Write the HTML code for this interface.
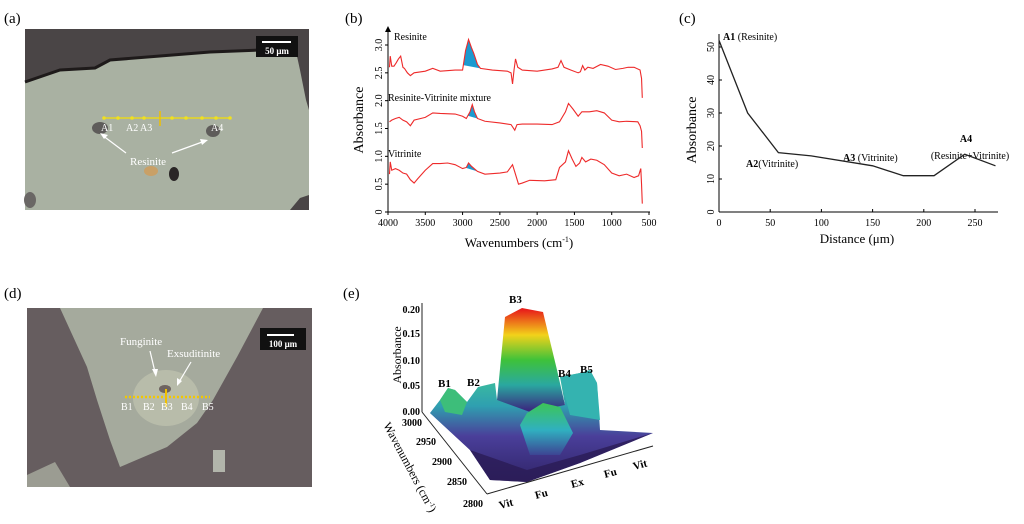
<!DOCTYPE html>
<html><head><meta charset="utf-8"><style>
html,body{margin:0;padding:0;background:#fff;}
svg{display:block;font-family:"Liberation Serif",serif;}
</style></head><body>
<svg id="fig" width="1024" height="524" viewBox="0 0 1024 524" xmlns="http://www.w3.org/2000/svg">
<defs>
<linearGradient id="peakG" gradientUnits="userSpaceOnUse" x1="0" y1="310" x2="0" y2="410">
<stop offset="0" stop-color="#e8201a"/><stop offset="0.25" stop-color="#f2d21a"/><stop offset="0.5" stop-color="#3ec23a"/><stop offset="0.75" stop-color="#2aa8a0"/><stop offset="1" stop-color="#3a2a80"/></linearGradient>
<linearGradient id="baseG" gradientUnits="userSpaceOnUse" x1="0" y1="370" x2="0" y2="490">
<stop offset="0" stop-color="#40c898"/><stop offset="0.3" stop-color="#2f9fb0"/><stop offset="0.55" stop-color="#4a3f9a"/><stop offset="1" stop-color="#2c1f60"/></linearGradient>
<linearGradient id="humpG" gradientUnits="userSpaceOnUse" x1="0" y1="400" x2="0" y2="460">
<stop offset="0" stop-color="#3ec84a"/><stop offset="0.5" stop-color="#30b0c0"/><stop offset="1" stop-color="#3f2f8a"/></linearGradient>
</defs>

<!-- Panel a -->
<g>
<text x="4" y="23" font-size="15">(a)</text>
<rect x="25" y="29" width="284" height="181" fill="#4a4546"/>
<polygon points="25,82 60,70 95,68 110,60 160,56 210,52 260,50 295,47 300,70 306,100 309,110 309,195 300,198 290,210 25,210" fill="#a9b1a2"/>
<polyline points="25,82 60,70 95,68 110,60 160,56 210,52 260,50 295,47" fill="none" stroke="#1e1a1a" stroke-width="3"/>
<ellipse cx="100" cy="128" rx="8" ry="6" fill="#5e5c5a"/>
<ellipse cx="213" cy="131" rx="7" ry="6" fill="#5e5c5a"/>
<ellipse cx="151" cy="171" rx="7" ry="5" fill="#c9a067"/>
<ellipse cx="174" cy="174" rx="5" ry="7" fill="#2a2626"/>
<ellipse cx="30" cy="200" rx="6" ry="8" fill="#6a6765"/>
<rect x="256" y="36" width="42" height="21" fill="#111"/>
<line x1="262" y1="42" x2="291" y2="42" stroke="#fff" stroke-width="2"/>
<text x="277" y="54" font-size="9" font-weight="bold" fill="#fff" text-anchor="middle">50 μm</text>
<line x1="103" y1="118" x2="231" y2="118" stroke="#e8d820" stroke-width="1.5"/>
<line x1="160" y1="111" x2="160" y2="126" stroke="#f0c000" stroke-width="1.5"/>
<g fill="#f0e020"><circle cx="104" cy="118" r="1.8"/><circle cx="118" cy="118" r="1.8"/><circle cx="132" cy="118" r="1.8"/><circle cx="144" cy="118" r="1.8"/><circle cx="172" cy="118" r="1.8"/><circle cx="186" cy="118" r="1.8"/><circle cx="202" cy="118" r="1.8"/><circle cx="216" cy="118" r="1.8"/><circle cx="230" cy="118" r="1.8"/></g>
<g font-size="10" fill="#fff"><text x="101" y="131">A1</text><text x="126" y="131">A2</text><text x="140" y="131">A3</text><text x="211" y="131">A4</text>
<text x="130" y="165" font-size="11">Resinite</text></g>
<line x1="126" y1="153" x2="102" y2="135" stroke="#fff" stroke-width="1.2"/><polygon points="100,133 108,135 104,139" fill="#fff"/>
<line x1="172" y1="153" x2="205" y2="141" stroke="#fff" stroke-width="1.2"/><polygon points="208,140 200,139 202,145" fill="#fff"/>
</g>

<!-- Panel d -->
<g>
<text x="4" y="298" font-size="15">(d)</text>
<rect x="27" y="308" width="285" height="179" fill="#665d5f"/>
<polygon points="60,308 263,308 237,357 213,400 197,423 167,447 120,467 110,440 97,400 87,367" fill="#a5aa9d"/>
<ellipse cx="166" cy="398" rx="33" ry="28" fill="#b8bcaa"/>
<ellipse cx="165" cy="389" rx="6" ry="4" fill="#6e6460"/>
<polygon points="27,487 27,475 55,462 70,487" fill="#9b9c92"/>
<rect x="213" y="450" width="12" height="22" fill="#b2b5ab"/>
<rect x="260" y="328" width="46" height="22" fill="#111"/>
<line x1="267" y1="335" x2="294" y2="335" stroke="#fff" stroke-width="2"/>
<text x="283" y="347" font-size="9" font-weight="bold" fill="#fff" text-anchor="middle">100 μm</text>
<line x1="125" y1="397" x2="210" y2="397" stroke="#f2c800" stroke-width="2.5" stroke-dasharray="2,2"/>
<line x1="166" y1="389" x2="166" y2="407" stroke="#f0c000" stroke-width="2"/>
<g font-size="10" fill="#fff"><text x="121" y="410">B1</text><text x="143" y="410">B2</text><text x="161" y="410">B3</text><text x="181" y="410">B4</text><text x="202" y="410">B5</text>
<text x="120" y="345" font-size="11">Funginite</text><text x="167" y="357" font-size="11">Exsuditinite</text></g>
<line x1="150" y1="351" x2="155" y2="372" stroke="#fff" stroke-width="1.2"/><polygon points="156,377 152,369 158,369" fill="#fff"/>
<line x1="191" y1="362" x2="179" y2="382" stroke="#fff" stroke-width="1.2"/><polygon points="177,386 177,378 182,381" fill="#fff"/>
</g>

<!-- Panel b -->
<g id="pb">
<text x="345" y="23" font-size="15">(b)</text>
<line x1="388" y1="30" x2="388" y2="212" stroke="#000" stroke-width="1"/>
<polygon points="385,32 391,32 388,26" fill="#000"/>
<line x1="388" y1="212" x2="650" y2="212" stroke="#000" stroke-width="1"/>
<text transform="translate(363,120) rotate(-90)" font-size="14" text-anchor="middle">Absorbance</text>
<text x="519" y="247" font-size="13" text-anchor="middle">Wavenumbers (cm<tspan font-size="8" dy="-5">-1</tspan><tspan dy="5">)</tspan></text>
<text x="394" y="40" font-size="10">Resinite</text>
<text x="388" y="101" font-size="10">Resinite-Vitrinite mixture</text>
<text x="388" y="157" font-size="10">Vitrinite</text>
</g>

<!-- Panel c -->
<g id="pc">
<text x="679" y="23" font-size="15">(c)</text>
<line x1="719" y1="34" x2="719" y2="212" stroke="#000"/>
<line x1="719" y1="212" x2="998" y2="212" stroke="#000"/>
<text transform="translate(696,130) rotate(-90)" font-size="14" text-anchor="middle">Absorbance</text>
<text x="857" y="243" font-size="13" text-anchor="middle">Distance (μm)</text>
<g font-size="10">
<text x="723" y="40"><tspan font-weight="bold">A1</tspan> (Resinite)</text>
<text x="746" y="167"><tspan font-weight="bold">A2</tspan>(Vitrinite)</text>
<text x="843" y="161"><tspan font-weight="bold">A3</tspan> (Vitrinite)</text>
<text x="966" y="142" font-weight="bold" text-anchor="middle">A4</text>
<text x="970" y="159" text-anchor="middle">(Resinite+Vitrinite)</text>
</g>
</g>

<!-- Panel e -->
<g>
<text x="343" y="298" font-size="15">(e)</text>
<polygon points="430,413 440,400 448,388 455,390 467,402 478,387 495,383 497,400 565,405 560,377 580,373 590,370 597,383 600,430 653,433 580,463 527,482 490,480 470,450" fill="url(#baseG)"/>
<polygon points="430,413 470,410 520,430 530,470 490,480 470,450" fill="url(#baseG)" opacity="0.9"/>
<polygon points="440,400 448,388 455,390 467,402 462,415 445,412" fill="#3dbe7a"/>
<polygon points="560,377 580,373 590,370 597,383 600,420 570,415" fill="#34b3b0"/>
<polygon points="497,400 505,317 522,308 543,312 557,370 565,405 530,412" fill="url(#peakG)"/>
<polygon points="520,425 527,413 543,403 560,407 573,433 560,455 530,455" fill="url(#humpG)"/>
<polygon points="470,450 527,470 580,455 653,433 580,463 527,482 490,480" fill="#2a1c55" opacity="0.8"/>
<line x1="422" y1="303" x2="422" y2="412" stroke="#222"/>
<line x1="422" y1="412" x2="487" y2="494" stroke="#222"/>
<line x1="487" y1="494" x2="653" y2="446" stroke="#222"/>
<g font-size="10" font-weight="bold" text-anchor="end">
<text x="420" y="313">0.20</text><text x="420" y="337">0.15</text><text x="420" y="364">0.10</text><text x="420" y="389">0.05</text><text x="420" y="415">0.00</text></g>
<g font-size="10" font-weight="bold" text-anchor="end">
<text x="422" y="426">3000</text><text x="436" y="445">2950</text><text x="452" y="465">2900</text><text x="467" y="485">2850</text><text x="483" y="507">2800</text></g>
<g font-size="11" font-weight="bold">
<text transform="translate(500,509) rotate(-15)">Vit</text><text transform="translate(536,499) rotate(-15)">Fu</text><text transform="translate(572,488) rotate(-15)">Ex</text><text transform="translate(605,478) rotate(-15)">Fu</text><text transform="translate(634,470) rotate(-15)">Vit</text></g>
<text transform="translate(401,355) rotate(-90)" font-size="12" text-anchor="middle">Absorbance</text>
<text transform="translate(383,425) rotate(62)" font-size="12">Wavenumbers (cm<tspan font-size="7" dy="-4">-1</tspan><tspan dy="4">)</tspan></text>
<g font-size="11" font-weight="bold">
<text x="438" y="387">B1</text><text x="467" y="386">B2</text><text x="509" y="303">B3</text><text x="558" y="377">B4</text><text x="580" y="373">B5</text></g>
</g>
</svg>
<script>
// ---- Panel b data ----
const bTicksX = [4000,3500,3000,2500,2000,1500,1000,500];
const bTicksY = [0,0.5,1.0,1.5,2.0,2.5,3.0];
const resWn = [3980,3970,3950,3920,3890,3860,3830,3800,3780,3740,3700,3650,3500,3400,3300,3100,3000,2960,2920,2880,2850,2800,2760,2600,2400,2350,2330,2310,2290,2260,2200,2000,1800,1720,1680,1640,1550,1450,1420,1390,1360,1320,1250,1150,1050,950,850,780,700,620,600,590];
const resAb = [2.6,2.8,2.62,2.62,2.68,2.75,2.8,2.6,2.58,2.5,2.45,2.5,2.53,2.58,2.53,2.55,2.55,2.9,3.1,2.95,2.85,2.65,2.58,2.55,2.53,2.5,2.3,2.55,2.75,2.6,2.55,2.53,2.57,2.6,2.72,2.6,2.55,2.5,2.52,2.63,2.55,2.6,2.58,2.65,2.62,2.56,2.58,2.6,2.6,2.55,2.4,2.05];
const mixWn = [3980,3950,3900,3850,3800,3750,3700,3650,3500,3400,3300,3100,3000,2950,2900,2870,2840,2800,2700,2500,2350,2300,2270,2200,2000,1800,1700,1620,1580,1520,1450,1400,1300,1200,1100,1000,900,800,650,620,600,590];
const mixAb = [1.62,1.65,1.68,1.7,1.65,1.62,1.55,1.65,1.7,1.78,1.77,1.76,1.72,1.68,1.8,1.93,1.8,1.68,1.63,1.6,1.57,1.47,1.57,1.58,1.58,1.57,1.62,1.8,1.95,1.85,1.72,1.8,1.8,1.82,1.78,1.65,1.62,1.63,1.62,1.55,1.45,1.15];
const vitWn = [3980,3970,3950,3900,3850,3800,3750,3700,3650,3600,3500,3400,3300,3200,3100,3000,2950,2920,2880,2800,2700,2500,2400,2330,2300,2250,2200,2100,1900,1750,1700,1620,1580,1530,1480,1430,1400,1350,1280,1200,1100,1000,900,800,700,640,610,600,590];
const vitAb = [0.68,0.9,0.75,0.78,0.75,0.7,0.68,0.58,0.52,0.6,0.75,0.87,0.87,0.88,0.85,0.78,0.8,0.88,0.82,0.73,0.68,0.7,0.72,0.85,0.72,0.5,0.52,0.57,0.56,0.58,0.8,0.9,1.1,0.95,0.82,0.88,0.98,0.9,0.95,0.93,0.85,0.7,0.65,0.68,0.62,0.65,0.78,0.5,0.15];
const bandStart = [2990,2930,2960];
const bandEnd = [2760,2790,2790];
// ---- Panel c data ----
const cDist = [0,28,58,90,150,180,210,240,270];
const cAbs = [52,30,18,17,14,11,11,17.5,14];
const cTicksX = [0,50,100,150,200,250];
const cTicksY = [0,10,20,30,40,50];

const NS = "http://www.w3.org/2000/svg";
function mk(t, a, p){const e=document.createElementNS(NS,t);for(const k in a)e.setAttribute(k,a[k]);p.appendChild(e);return e;}
const bx = w => 388 + (4000 - w) * (261/3500);
const by = v => 212 - v * (167/3);
const pb = document.getElementById('pb');
bTicksX.forEach(t=>{
  const l=mk('line',{x1:bx(t),y1:212,x2:bx(t),y2:215,stroke:'#000'},pb);
  
  
  const tx=mk('text',{x:bx(t),y:226,'font-size':10,'text-anchor':'middle'},pb);tx.textContent=t;
  
  
});
bTicksY.forEach(t=>{
  const l=mk('line',{x1:385,y1:by(t),x2:388,y2:by(t),stroke:'#000'},pb);
  
  
  const tx=mk('text',{transform:`translate(382,${by(t)}) rotate(-90)`,'font-size':10,'text-anchor':'middle'},pb);tx.textContent=t.toFixed(1).replace('0.0','0');
  
  
});
function interp(wn,ab,w){for(let i=0;i<wn.length-1;i++){if(w<=wn[i]&&w>=wn[i+1]){const f=(wn[i]-w)/(wn[i]-wn[i+1]);return ab[i]+f*(ab[i+1]-ab[i]);}}return ab[0];}
const series=[[resWn,resAb,'spectrum-resinite'],[mixWn,mixAb,'spectrum-mixture'],[vitWn,vitAb,'spectrum-vitrinite']];
series.forEach((s,k)=>{
  const [wn,ab,name]=s;
  const s0=bandStart[k], e0=bandEnd[k];
  let pts=[[s0,interp(wn,ab,s0)]];
  wn.forEach((w,i)=>{if(w<s0&&w>e0)pts.push([w,ab[i]]);});
  pts.push([e0,interp(wn,ab,e0)]);
  const poly=mk('polygon',{points:pts.map(p=>bx(p[0])+','+by(p[1])).join(' '),fill:'#1b9ad0'},pb);
  
  
  const pl=mk('polyline',{points:wn.map((w,i)=>bx(w)+','+by(ab[i])).join(' '),fill:'none',stroke:'#ee2a2a','stroke-width':1.1},pb);
  
  
});
const cx = d => 719 + d * (256/250);
const cy = v => 212 - v * 3.3;
const pc=document.getElementById('pc');
cTicksX.forEach(t=>{
  const l=mk('line',{x1:cx(t),y1:212,x2:cx(t),y2:209,stroke:'#000'},pc);
  
  
  const tx=mk('text',{x:cx(t),y:226,'font-size':10,'text-anchor':'middle'},pc);tx.textContent=t;
  
  
});
cTicksY.forEach(t=>{
  const l=mk('line',{x1:719,y1:cy(t),x2:722,y2:cy(t),stroke:'#000'},pc);
  
  
  const tx=mk('text',{transform:`translate(714,${cy(t)}) rotate(-90)`,'font-size':10,'text-anchor':'middle'},pc);tx.textContent=t;
  
  
});
const cl=mk('polyline',{points:cDist.map((d,i)=>cx(d)+','+cy(cAbs[i])).join(' '),fill:'none',stroke:'#222','stroke-width':1.3},pc);


</script>
</body></html>
